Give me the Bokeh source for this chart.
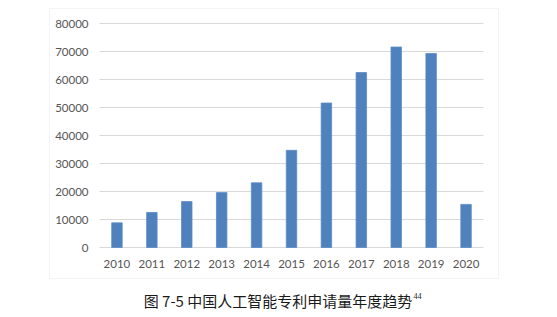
from bokeh.plotting import figure
from bokeh.models import Range1d, Label, BoxAnnotation
from bokeh.embed import file_html
from bokeh.resources import INLINE
from bokeh.core.properties import value

# ---- data ----
years = ["2010", "2011", "2012", "2013", "2014", "2015", "2016", "2017", "2018", "2019", "2020"]
counts = [8800, 12500, 16400, 19600, 23100, 34700, 51600, 62500, 71600, 69300, 15400]
y_ticks = [0, 10000, 20000, 30000, 40000, 50000, 60000, 70000, 80000]
y_tick_labels = [str(t) for t in y_ticks]
caption = "图 7-5 中国人工智能专利申请量年度趋势"
caption_sup = "44"

# ---- geometry (pixels) ----
W, H = 557, 317
frame_l, frame_r, frame_t, frame_b = 49, 498, 8, 278      # outer chart border
area_l, area_r, area_t, area_b = 99, 483, 23, 247         # plotting area
n = len(years)
ymax = y_ticks[-1]

px_x = (area_r - area_l) / n            # px per category unit
px_y = (area_b - area_t) / ymax         # px per value unit
x0 = 0.5 - area_l / px_x
x1 = n + 0.5 + (W - area_r) / px_x
y0 = -(H - area_b) / px_y
y1 = ymax + area_t / px_y

def dx(px):
    return 0.5 + (px - area_l) / px_x

def dy(px):
    return (area_b - px) / px_y

p = figure(width=W, height=H, x_range=Range1d(x0, x1), y_range=Range1d(y0, y1),
           min_border=0, x_axis_location=None, y_axis_location=None,
           output_backend="svg", toolbar_location=None)
p.grid.visible = False
p.outline_line_color = None
p.background_fill_color = "white"
p.border_fill_color = "white"

# chart border
p.add_layout(BoxAnnotation(left=dx(frame_l), right=dx(frame_r), top=dy(frame_t), bottom=dy(frame_b),
                           fill_color=None, fill_alpha=0, line_color="#d9d9d9", line_width=1, level="underlay"))

xs = list(range(1, n + 1))

# gridlines
p.segment(x0=[0.5] * len(y_ticks), x1=[n + 0.5] * len(y_ticks), y0=y_ticks, y1=y_ticks,
          line_color="#d9d9d9", line_width=1)

# bars
p.vbar(x=xs, top=counts, bottom=0, width=0.3, fill_color="#4F81BD", line_color="#5b8cc6", line_width=0.8)

# y tick labels
p.text(x=[0.5] * len(y_ticks), y=y_ticks, text=y_tick_labels, x_offset=-11,
       text_align="right", text_baseline="middle", text_font=value("Lato"),
       text_font_size="11.5px", text_color="#555555")

# x tick labels
p.text(x=xs, y=[0] * n, text=years, y_offset=16,
       text_align="center", text_baseline="middle", text_font=value("Lato"),
       text_font_size="11.5px", text_color="#555555")

# caption
p.add_layout(Label(x=277.5, y=H - 300, x_units="screen", y_units="screen", text=caption,
                   text_align="center", text_baseline="middle",
                   text_font="Noto Sans CJK SC", text_font_size="15px", text_color="#1a1a1a"))
p.add_layout(Label(x=413, y=H - 295, x_units="screen", y_units="screen", text=caption_sup,
                   text_align="left", text_baseline="middle",
                   text_font="Liberation Serif", text_font_size="8px", text_color="#1a1a1a"))

open("out.html", "w").write(file_html(p, INLINE))
